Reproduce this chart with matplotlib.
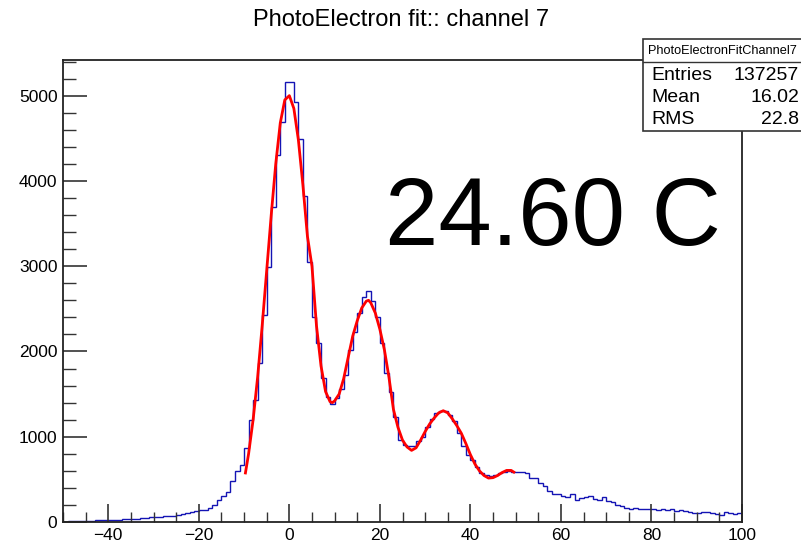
import numpy as np
import matplotlib.pyplot as plt
from matplotlib.patches import Rectangle
from matplotlib.ticker import MultipleLocator

plt.rcParams['font.family'] = ['Liberation Sans', 'DejaVu Sans']

# histogram: 150 bins of width 1 from -50 to 100
bin_edges = np.arange(-50, 101, 1)
counts = [
    # -50 .. -11
    5, 8, 8, 10, 10, 12, 14, 18, 20, 22,
    25, 24, 27, 30, 32, 38, 36, 45, 48, 55,
    62, 60, 70, 75, 72, 85, 92, 100, 115, 125,
    145, 140, 165, 195, 255, 300, 350, 485, 595, 670,
    # -10 .. 9
    870, 1196, 1430, 1864, 2427, 2993, 3697, 4302, 4686, 5160,
    5160, 4920, 4487, 3822, 3052, 2400, 2105, 1690, 1461, 1383,
    # 10 .. 29
    1450, 1555, 1723, 2017, 2232, 2446, 2642, 2712, 2595, 2400,
    2095, 1743, 1528, 1235, 961, 900, 895, 895, 950, 1000,
    # 30 .. 49
    1118, 1210, 1280, 1300, 1300, 1250, 1190, 1040, 890, 790,
    730, 650, 580, 550, 545, 550, 575, 585, 600, 585,
    # 50 .. 69
    590, 585, 575, 520, 520, 462, 420, 360, 330, 330,
    305, 298, 330, 260, 278, 298, 310, 265, 262, 290,
    # 70 .. 99
    245, 230, 205, 190, 170, 155, 170, 155, 150, 153,
    153, 141, 155, 141, 150, 128, 140, 128, 120, 110,
    110, 120, 112, 110, 95, 85, 120, 110, 95, 100,
]

# fitted curve
fit_x = [-9.7, -9, -8, -7, -6, -5, -4, -3, -2, -1, 0, 1, 2, 3, 4, 5, 6, 7, 8, 9,
         9.5, 10, 11, 12, 13, 14, 15, 16, 17, 17.5, 18, 19, 20, 21, 22, 23, 24, 25,
         26, 27, 28, 29, 30, 31, 32, 33, 34, 35, 36, 37, 38, 39, 40, 41, 42, 43,
         44, 45, 46, 47, 48, 49, 49.6]
fit_y = [575, 800, 1200, 1700, 2300, 2950, 3600, 4200, 4680, 4950, 5000, 4850,
         4480, 3950, 3350, 3000, 2300, 1830, 1530, 1410, 1400, 1420, 1500, 1680,
         1930, 2180, 2360, 2510, 2590, 2600, 2570, 2450, 2260, 2020, 1700, 1320,
         1110, 960, 880, 840, 870, 960, 1060, 1150, 1220, 1280, 1305, 1280, 1210,
         1130, 1040, 920, 790, 680, 600, 545, 515, 520, 545, 580, 605, 605, 585]

title = "PhotoElectron fit:: channel 7"
stats_name = "PhotoElectronFitChannel7"
stats_rows = [("Entries", "137257"), ("Mean", "16.02"), ("RMS", "22.8")]
temp_label = "24.60 C"

fig = plt.figure(figsize=(8.01, 5.43), dpi=100)
ax = fig.add_axes([63 / 801, 21 / 543, 679 / 801, 462 / 543])

ax.stairs(counts, bin_edges, color='#1414b4', linewidth=1.0)
ax.plot(fit_x, fit_y, color='#ff0000', linewidth=2.0)

ax.set_xlim(-50, 100)
ax.set_ylim(0, 5418)
ax.xaxis.set_major_locator(MultipleLocator(20))
ax.xaxis.set_minor_locator(MultipleLocator(5))
ax.yaxis.set_major_locator(MultipleLocator(1000))
ax.yaxis.set_minor_locator(MultipleLocator(200))
ax.tick_params(axis='both', which='both', direction='in', top=False, right=False,
               labelsize=12.5, color='#333333')
ax.tick_params(axis='x', which='major', length=13, width=1.2, pad=4)
ax.tick_params(axis='x', which='minor', length=7, width=1.0)
ax.tick_params(axis='y', which='major', length=17, width=1.2, pad=4)
ax.tick_params(axis='y', which='minor', length=9, width=1.0)
ax.set_xticks(range(-40, 101, 20))
ax.set_xticklabels([str(v).replace('-', '\u2212') for v in range(-40, 101, 20)])
for s in ax.spines.values():
    s.set_linewidth(1.3)
    s.set_color('#222222')

fig.text(401 / 801, 1 - 20 / 543, title, ha='center', va='center', fontsize=17)

# large temperature label
fig.text(385 / 801, 1 - 245 / 543, temp_label, ha='left', va='baseline', fontsize=69)

# stats box (runs to the right edge, like the original)
bx0, by0, bw, bh = 643, 39, 170, 92
fig.patches.append(Rectangle((bx0 / 801, 1 - (by0 + bh) / 543), bw / 801, bh / 543,
                             transform=fig.transFigure, facecolor='white',
                             edgecolor='#333333', linewidth=1.2, zorder=5))
fig.lines.append(plt.Line2D([bx0 / 801, 1.0], [1 - 62 / 543, 1 - 62 / 543],
                            transform=fig.transFigure, color='#333333',
                            linewidth=1.0, zorder=6))
fig.text(648 / 801, 1 - 51 / 543, stats_name, ha='left', va='center', fontsize=9.2,
         zorder=7)
for i, (name, val) in enumerate(stats_rows):
    yy = 1 - (75 + i * 22.5) / 543
    fig.text(651 / 801, yy, name, ha='left', va='center', fontsize=14, zorder=7)
    fig.text(799 / 801, yy, val, ha='right', va='center', fontsize=14, zorder=7)

fig.savefig('out.png', dpi=100)
